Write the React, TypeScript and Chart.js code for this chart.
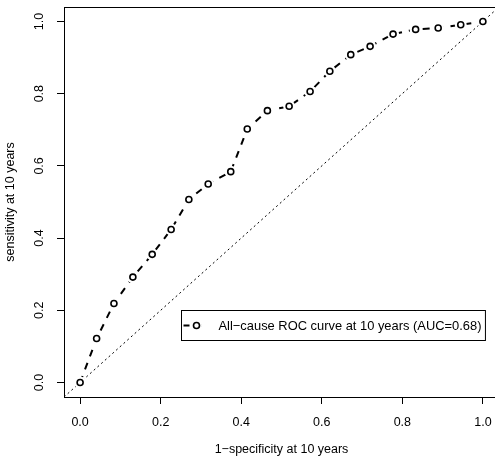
import { useEffect, useRef } from "react";
import { Chart, registerables } from "chart.js";

Chart.register(...registerables);

const fpr = [0, 0.041, 0.084, 0.131, 0.179, 0.226, 0.27, 0.318, 0.374, 0.415, 0.465, 0.519, 0.571, 0.62, 0.672, 0.72, 0.777, 0.833, 0.889, 0.945, 1.0];
const tpr = [0, 0.122, 0.219, 0.292, 0.355, 0.424, 0.507, 0.55, 0.584, 0.702, 0.753, 0.765, 0.806, 0.862, 0.908, 0.931, 0.965, 0.978, 0.982, 0.991, 1.0];
const tickValues = [0, 0.2, 0.4, 0.6, 0.8, 1.0];
const axisRange = [-0.04, 1.04];
const legendLabel = "All\u2212cause ROC curve at 10 years (AUC=0.68)";
const legendAnchor = [0.25, 0.2];
const xTitle = "1\u2212specificity at 10 years";
const yTitle = "sensitivity at 10 years";

const FONT = "'Liberation Sans', Arial, Helvetica, sans-serif";
const FS = 12.5;

export default function App() {
  const ref = useRef<HTMLCanvasElement | null>(null);

  useEffect(() => {
    if (!ref.current) return;
    const rocPts = fpr.map((x, i) => ({ x, y: tpr[i] }));
    const diag = axisRange.map((v) => ({ x: v, y: v }));

    const boxPlugin = {
      id: "rbox",
      afterDatasetsDraw(chart: any) {
        const { ctx, chartArea: a } = chart;
        ctx.save();
        ctx.strokeStyle = "#000";
        ctx.lineWidth = 1;
        ctx.strokeRect(Math.round(a.left) + 0.5, Math.round(a.top) + 0.5, Math.round(a.right - a.left), Math.round(a.bottom - a.top));
        // y tick labels rotated (R las=0)
        const ys = chart.scales.y;
        ctx.fillStyle = "#000";
        ctx.font = `${FS}px ${FONT}`;
        ctx.textAlign = "center";
        ctx.textBaseline = "middle";
        tickValues.forEach((v) => {
          const py = ys.getPixelForValue(v);
          ctx.save();
          ctx.translate(a.left - 24, py);
          ctx.rotate(-Math.PI / 2);
          ctx.fillText(v.toFixed(1), 0, 0);
          ctx.restore();
        });
        // legend
        const xs = chart.scales.x;
        const lx = Math.round(xs.getPixelForValue(legendAnchor[0])) + 0.5;
        const ly = Math.round(ys.getPixelForValue(legendAnchor[1])) + 0.5;
        ctx.font = `12.9px ${FONT}`;
        ctx.textAlign = "left";
        const tw = ctx.measureText(legendLabel).width;
        const w = 37 + tw + 4;
        const h = 30;
        ctx.fillStyle = "#fff";
        ctx.fillRect(lx, ly, w, h);
        ctx.strokeStyle = "#000";
        ctx.lineWidth = 1;
        ctx.strokeRect(lx, ly, w, h);
        const cy = ly + h / 2;
        ctx.lineWidth = 2;
        ctx.setLineDash([6, 6]);
        ctx.beginPath();
        ctx.moveTo(lx + 2, cy);
        ctx.lineTo(lx + 22, cy);
        ctx.stroke();
        ctx.setLineDash([]);
        ctx.fillStyle = "#fff";
        ctx.beginPath();
        ctx.arc(lx + 15, cy, 5.5, 0, Math.PI * 2);
        ctx.fill();
        ctx.lineWidth = 1.6;
        ctx.beginPath();
        ctx.arc(lx + 15, cy, 3, 0, Math.PI * 2);
        ctx.stroke();
        ctx.fillStyle = "#000";
        ctx.textBaseline = "middle";
        ctx.fillText(legendLabel, lx + 37, cy + 1);
        ctx.restore();
      },
    };

    const chart = new Chart(ref.current, {
      type: "scatter",
      data: {
        datasets: [
          {
            data: rocPts,
            showLine: false,
            pointRadius: 3,
            pointBorderWidth: 1.6,
            pointBorderColor: "#000",
            pointBackgroundColor: "#fff",
          },
          {
            data: rocPts,
            showLine: false,
            pointRadius: 6,
            pointBorderWidth: 0,
            pointBorderColor: "#fff",
            pointBackgroundColor: "#fff",
          },
          {
            data: rocPts,
            showLine: true,
            pointRadius: 0,
            borderColor: "#000",
            borderWidth: 2,
            borderDash: [7, 7],
          },
          {
            data: diag,
            showLine: true,
            pointRadius: 0,
            borderColor: "#000",
            borderWidth: 1,
            borderDash: [2, 3],
          },
        ],
      },
      options: {
        animation: false,
        responsive: false,
        maintainAspectRatio: false,
        events: [],
        layout: { padding: { top: 7, right: 6, left: 0, bottom: 0 } },
        plugins: { legend: { display: false }, tooltip: { enabled: false } },
        scales: {
          x: {
            type: "linear",
            min: axisRange[0],
            max: axisRange[1],
            afterBuildTicks: (s: any) => {
              s.ticks = tickValues.map((v) => ({ value: v }));
            },
            afterFit: (s: any) => {
              s.height = 60;
            },
            border: { display: false },
            grid: { drawOnChartArea: false, drawTicks: true, tickLength: 7, color: "#000", lineWidth: 1 },
            ticks: {
              color: "#000",
              font: { size: FS, family: FONT },
              padding: 11,
              maxRotation: 0,
              autoSkip: false,
              callback: (v: any) => Number(v).toFixed(1),
            },
            title: { display: true, text: xTitle, color: "#000", font: { size: FS, family: FONT }, padding: { top: 0, bottom: 0 } },
          },
          y: {
            type: "linear",
            min: axisRange[0],
            max: axisRange[1],
            afterBuildTicks: (s: any) => {
              s.ticks = tickValues.map((v) => ({ value: v }));
            },
            afterFit: (s: any) => {
              s.width = 64;
            },
            border: { display: false },
            grid: { drawOnChartArea: false, drawTicks: true, tickLength: 7, color: "#000", lineWidth: 1 },
            ticks: { display: false },
            title: { display: true, text: yTitle, color: "#000", font: { size: FS, family: FONT }, padding: { top: 3, bottom: 0 } },
          },
        },
      },
      plugins: [boxPlugin],
    });
    return () => chart.destroy();
  }, []);

  return (
    <div style={{ position: "fixed", left: 0, top: 0, width: 495, height: 457, overflow: "hidden", background: "#fff" }}>
      <canvas ref={ref} width={505} height={457} style={{ width: 505, height: 457, display: "block" }} />
    </div>
  );
}
